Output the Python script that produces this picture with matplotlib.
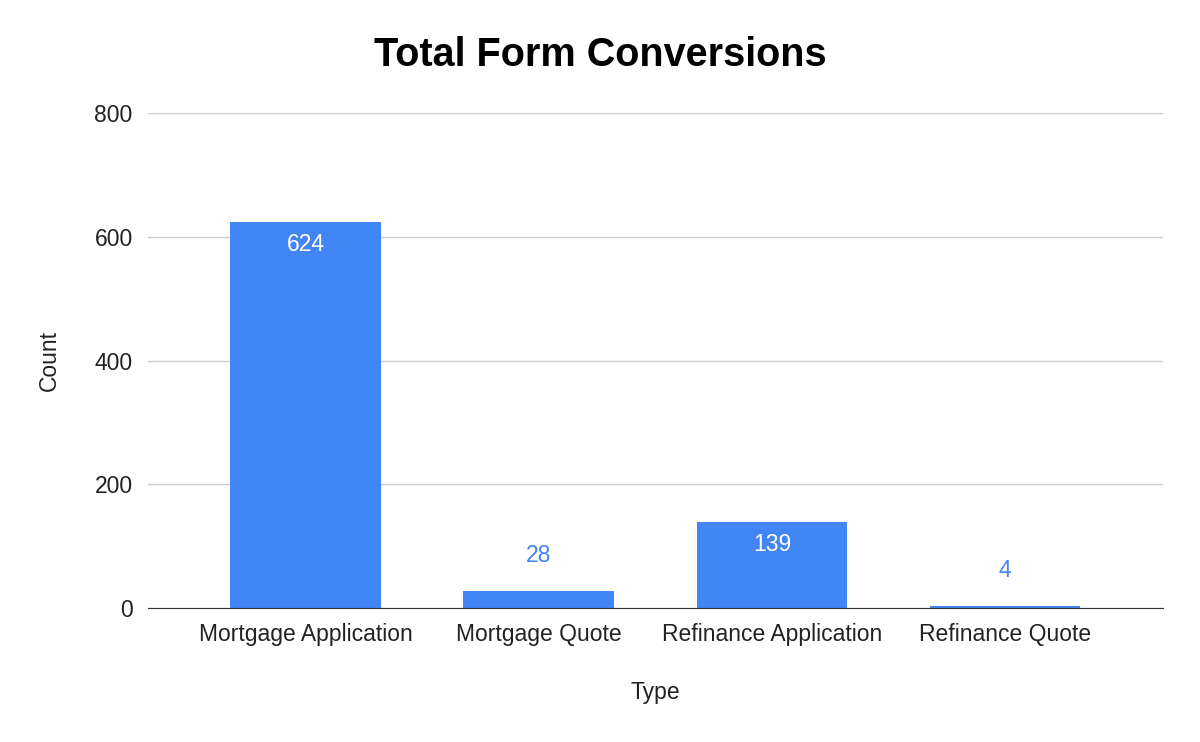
import matplotlib.pyplot as plt

plt.rcParams['font.family'] = ['Liberation Sans', 'DejaVu Sans']

types = ['Mortgage Application', 'Mortgage Quote', 'Refinance Application', 'Refinance Quote']
counts = [624, 28, 139, 4]
yticks = [0, 200, 400, 600, 800]

BLUE = '#4285F4'
FS = 16.5

fig = plt.figure(figsize=(12, 7.42), dpi=100)
ax = fig.add_axes([0.1233, 0.1806, 0.8457, 0.6671])

x = list(range(len(types)))
ax.bar(x, counts, width=0.647, color=BLUE, zorder=3)

ax.set_xlim(-0.677, 3.677)
ax.set_ylim(0, 800)
ax.set_yticks(yticks)
ax.set_xticks(x)
ax.set_xticklabels(types)
ax.grid(axis='y', color='#cccccc', linewidth=1, zorder=0)
for s in ['top', 'right', 'left']:
    ax.spines[s].set_visible(False)
ax.spines['bottom'].set_color('#333333')
ax.spines['bottom'].set_zorder(4)
ax.tick_params(axis='both', length=0, labelsize=FS, colors='#222222')
ax.tick_params(axis='x', pad=11)
ax.tick_params(axis='y', pad=11)

# value labels: inside for tall bars, above for short ones
for xi, v in zip(x, counts):
    if v > 100:
        ax.annotate(str(v), (xi, v), xytext=(0, -23), textcoords='offset pixels',
                    ha='center', va='center', color='white', fontsize=FS)
    else:
        ax.annotate(str(v), (xi, v), xytext=(0, 35), textcoords='offset pixels',
                    ha='center', va='center', color=BLUE, fontsize=FS)

ax.set_xlabel('Type', fontsize=FS, labelpad=25, color='#222222')
ax.set_ylabel('Count', fontsize=FS, labelpad=24, color='#222222')
fig.suptitle('Total Form Conversions', fontsize=28.5, fontweight='bold', y=0.952, x=0.5)

fig.savefig('out.png', dpi=100, facecolor='white')
